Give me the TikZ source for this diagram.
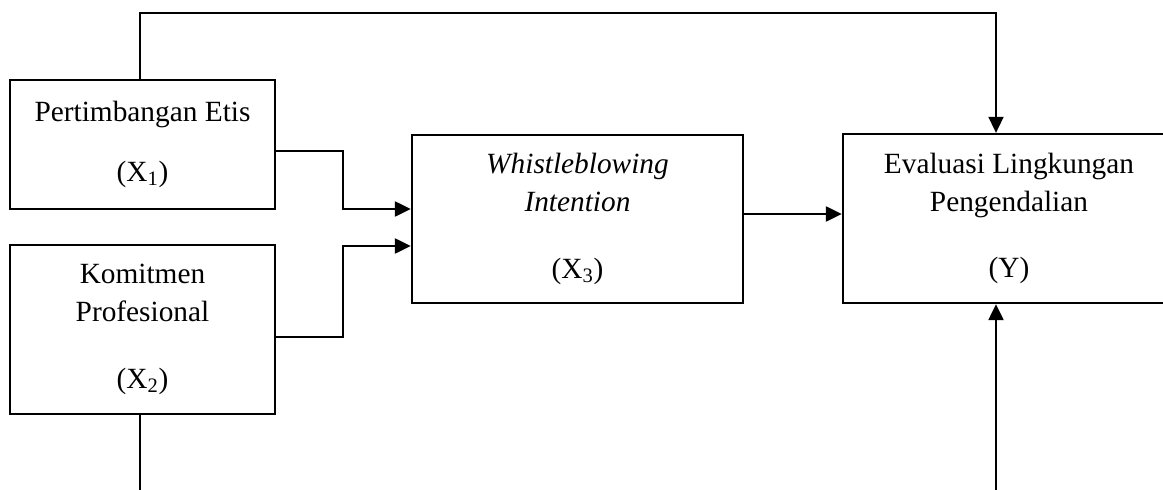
\documentclass[tikz,border=0pt]{standalone}
\usepackage{fontspec}
\setmainfont{Liberation Serif}
\usetikzlibrary{arrows.meta}
\begin{document}
\begin{tikzpicture}[x=0.75pt,y=-0.75pt,
  box/.style={draw,line width=1.6pt,align=center,inner sep=0pt,
    font=\fontsize{22}{28.5}\selectfont},
  conn/.style={line width=2.2pt,-{Triangle[length=12pt,width=11pt]}},
  plain/.style={line width=1.6pt}]
\useasboundingbox (0,0) rectangle (1163,489);
\clip (0,0) rectangle (1163,489);
\node[box,minimum width=265*0.75pt,minimum height=129*0.75pt] (X1) at (142.5,144.5)
  {Pertimbangan Etis\\[16.5pt](X\textsubscript{1})};
\node[box,minimum width=265*0.75pt,minimum height=169*0.75pt] (X2) at (142.5,329.5)
  {Komitmen\\Profesional\\[21.5pt](X\textsubscript{2})};
\node[box,minimum width=331*0.75pt,minimum height=168*0.75pt] (X3) at (577.5,219)
  {\itshape Whistleblowing\\\itshape Intention\\[21.5pt](X\textsubscript{3})};
\node[box,minimum width=332*0.75pt,minimum height=169*0.75pt] (Y) at (1009,218.5)
  {Evaluasi Lingkungan\\Pengendalian\\[21.5pt](Y)};
\coordinate (tr) at (996,13);
\coordinate (j1) at (343,209);
\coordinate (j2) at (343,246);
\coordinate (bl) at (140,495);
\coordinate (br) at (996,495);
\draw[plain,line width=1.9pt,-{Triangle[length=12pt,width=11pt]}] (X1.north -| bl) |- (tr) -- (Y.north -| tr);
\draw[conn] (X1.east |- 0,151) -| (j1) -- (X3.west |- j1);
\draw[conn] (X2.east |- 0,337) -| (j2) -- (X3.west |- j2);
\draw[conn] (X3.east |- 0,214) -- (Y.west |- 0,214);
\draw[plain] (X2.south -| bl) -- (bl);
\draw[conn] (br) -- (Y.south -| br);
\end{tikzpicture}
\end{document}
